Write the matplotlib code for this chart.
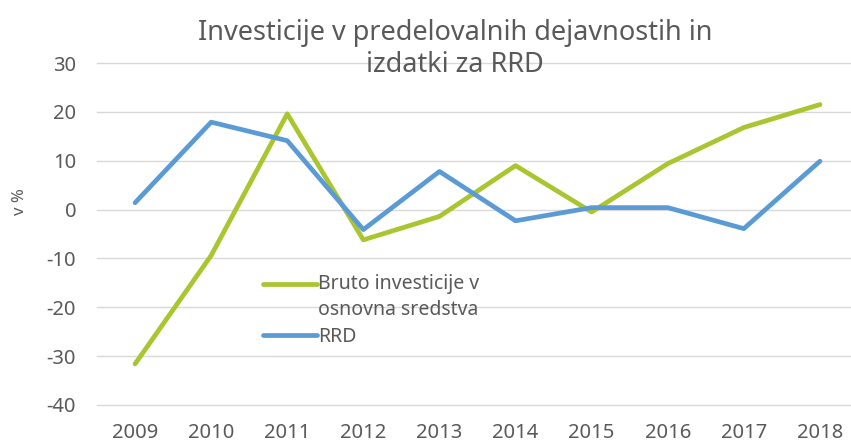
import matplotlib
matplotlib.use("Agg")
import matplotlib.pyplot as plt

plt.rcParams["font.family"] = ["Noto Sans", "DejaVu Sans"]
plt.rcParams["axes.unicode_minus"] = False

years = ["2009", "2010", "2011", "2012", "2013", "2014", "2015", "2016", "2017", "2018"]
bruto = [-31.6, -9.4, 19.6, -6.2, -1.4, 9.0, -0.5, 9.4, 16.8, 21.5]
rrd = [1.4, 17.9, 14.1, -4.1, 7.8, -2.3, 0.4, 0.4, -3.9, 9.9]

fig = plt.figure(figsize=(8.51, 4.43), dpi=100)
ax = fig.add_axes([97/851, 38/443, 761/851, 342/443])

x = range(len(years))
ax.plot(x, bruto, color="#a9c52f", lw=3.4, label="Bruto investicije v\nosnovna sredstva", solid_capstyle="round")
ax.plot(x, rrd, color="#5b9bd5", lw=3.4, label="RRD", solid_capstyle="round")

ax.set_xlim(-0.5, len(years) - 0.5)
ax.set_ylim(-40, 30)
ax.set_yticks(range(-40, 31, 10))
ax.set_xticks(list(x))
ax.set_xticklabels(years)
ax.grid(axis="y", color="#d9d9d9", lw=1)
for g in ax.get_ygridlines():
    g.set_clip_on(False)
ax.set_axisbelow(True)
for s in ax.spines.values():
    s.set_visible(False)
ax.tick_params(length=0, labelsize=14.5, colors="#595959")
ax.tick_params(axis="x", pad=13)
ax.tick_params(axis="y", pad=15)
ax.set_ylabel("v %", fontsize=12, color="#595959")
ax.yaxis.set_label_coords(-0.091, 0.594)

fig.text(455/851, 1 - 49/443, "Investicije v predelovalnih dejavnostih in\nizdatki za RRD",
         ha="center", va="center", fontsize=19.5, color="#595959", linespacing=1.2)

leg = ax.legend(loc="upper left", bbox_to_anchor=(253/851, 1 - 264/443), bbox_transform=fig.transFigure,
                frameon=False, fontsize=14, handlelength=2.8, handletextpad=0.05, labelcolor="#595959",
                labelspacing=0.35, borderpad=0)
t0 = leg.get_texts()[0]
t0.set_linespacing(1.4)
# move the first handle up to the first text line
l0 = leg.get_lines()[0]
l0.set_ydata([y + 14 * 1.4 / 2 for y in l0.get_ydata()])

fig.savefig("out.png", dpi=100)
